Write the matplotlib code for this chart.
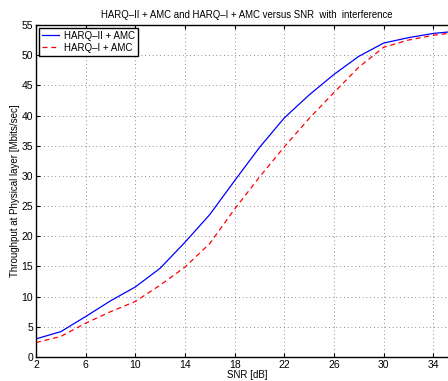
import matplotlib
matplotlib.use('Agg')
import matplotlib.pyplot as plt
import numpy as np

plt.rcParams['font.family'] = ['Liberation Sans', 'DejaVu Sans']

snr = [2, 4, 6, 8, 10, 12, 14, 16, 18, 20, 22, 24, 26, 28, 30, 32, 34, 36]
harq2 = [3.0, 4.2, 6.7, 9.3, 11.6, 14.7, 19.0, 23.6, 29.2, 34.7, 39.6, 43.4, 46.8, 49.8, 52.0, 52.9, 53.6, 54.0]
harq1 = [2.4, 3.4, 5.6, 7.5, 9.2, 11.9, 14.9, 18.8, 24.5, 29.8, 34.8, 39.5, 43.8, 48.0, 51.3, 52.5, 53.3, 53.8]

fig = plt.figure(figsize=(4.48, 3.81), dpi=100)
ax = fig.add_axes([36/448, 24/381, 422/448, 332/381])

ax.plot(snr, harq2, color='blue', lw=0.9, label='HARQ\u2013II + AMC')
ax.plot(snr, harq1, color='red', lw=0.9, ls=(0, (4, 3)), label='HARQ\u2013I + AMC')

ax.set_xlim(2, 36)
ax.set_ylim(0, 55)
ax.set_xticks(np.arange(2, 36, 4))
ax.set_yticks(np.arange(0, 56, 5))
ax.grid(True, ls=(0, (1, 3.5)), color='#666666', lw=0.6)
ax.tick_params(direction='in', labelsize=7.5, length=3, pad=2, top=True, right=True)
for s in ax.spines.values():
    s.set_linewidth(1.0)

ax.set_xlabel('SNR [dB]', fontsize=7, labelpad=0)
ax.set_ylabel('Throughput at Physical layer [Mbits/sec]', fontsize=7, labelpad=1)
ax.set_title('HARQ\u2013II + AMC and HARQ\u2013I + AMC versus SNR  with  interference', fontsize=6.9, pad=5)

leg = ax.legend(loc='upper left', fontsize=7, fancybox=False, framealpha=1,
                edgecolor='black', borderaxespad=0.3, handlelength=1.8,
                handletextpad=0.5, borderpad=0.3, labelspacing=0.2)
leg.get_frame().set_linewidth(1.0)

fig.savefig('out.png', dpi=100)
